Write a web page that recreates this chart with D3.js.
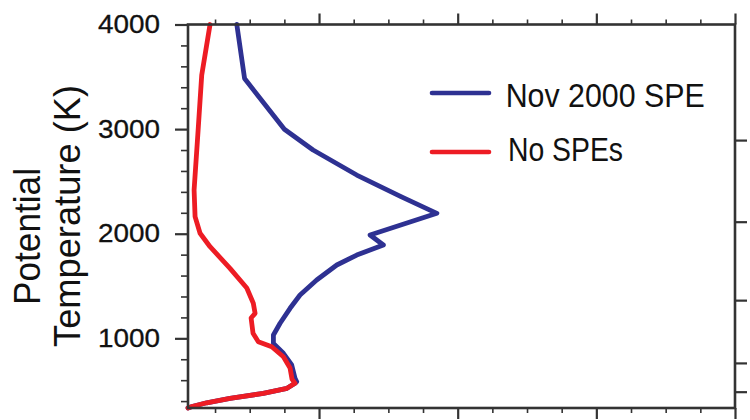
<!DOCTYPE html>
<html>
<head>
<meta charset="utf-8">
<script src="https://cdn.jsdelivr.net/npm/d3@7"></script>
<style>
  html, body { margin: 0; padding: 0; background: #fff; }
  svg { display: block; }
  text { font-family: "Liberation Sans", Arial, Helvetica, sans-serif; fill: #111; }
</style>
</head>
<body>
<svg id="chart" width="750" height="420"></svg>
<script>
// Profiles: x value vs potential temperature (K)
const spe2000Theta = [4000, 3484, 2998, 2800, 2561, 2354, 2195, 1988, 1892, 1844, 1796, 1701, 1558, 1414, 1287, 1144, 1032, 952, 857, 745, 618, 585, 570, 522, 474, 426, 384, 348, 334];
const spe2000Value = [0.407, 0.463, 0.750, 0.957, 1.272, 1.591, 1.850, 1.368, 1.464, 1.368, 1.272, 1.128, 0.983, 0.863, 0.791, 0.719, 0.671, 0.671, 0.743, 0.803, 0.827, 0.839, 0.827, 0.769, 0.598, 0.358, 0.190, 0.084, 0.055];

const noSpeTheta = [4000, 3517, 2991, 2418, 2163, 2004, 1876, 1669, 1481, 1335, 1239, 1194, 1048, 968, 920, 824, 716, 611, 570, 522, 474, 426, 384, 348, 334];
const noSpeValue = [0.214, 0.154, 0.128, 0.099, 0.106, 0.142, 0.214, 0.358, 0.479, 0.526, 0.539, 0.510, 0.524, 0.562, 0.659, 0.743, 0.791, 0.805, 0.827, 0.769, 0.598, 0.358, 0.190, 0.084, 0.055];

const seriesNames = ["Nov 2000 SPE", "No SPEs"];
const seriesColors = ["#2e3192", "#ed1c24"];

const yMajorTicks = [1000, 2000, 3000, 4000];
const yMinorTicks = d3.range(400, 4000, 200).filter(v => v % 1000 !== 0);
const xMajorTicks = [1, 2, 3, 4];
const xMinorTicks = d3.range(0.25, 4, 0.25).filter(v => v % 1 !== 0);
const rightTicks = [2895, 2115, 1365, 765, 490];

const xDomain = [0.055, 4];
const yDomain = [334, 4000];

const svg = d3.select("#chart");
const m = { left: 188, right: 735, top: 24.5, bottom: 408 };

const x = d3.scaleLinear().domain(xDomain).range([m.left, m.right]);
const y = d3.scaleLinear().domain(yDomain).range([m.bottom, m.top]);

const axisColor = "#333";

function styleAxis(g, width) {
  g.select(".domain").remove();
  g.selectAll(".tick line").attr("stroke", axisColor).attr("stroke-width", width);
}

// left axis
svg.append("g").attr("transform", `translate(${m.left},0)`)
  .call(d3.axisLeft(y).tickValues(yMinorTicks).tickSize(7).tickFormat(""))
  .call(g => styleAxis(g, 1.6));
const yAx = svg.append("g").attr("transform", `translate(${m.left},0)`)
  .call(d3.axisLeft(y).tickValues(yMajorTicks).tickSize(13).tickPadding(15).tickFormat(d3.format("d")))
  .call(g => styleAxis(g, 2.2));
yAx.selectAll(".tick text")
  .attr("font-size", 25.5)
  .attr("font-family", "'Liberation Sans', Arial, sans-serif")
  .attr("fill", "#111")
  .attr("stroke", "#111")
  .attr("stroke-width", 0.3)
  .attr("textLength", 62)
  .attr("lengthAdjust", "spacingAndGlyphs");

// right axis
svg.append("g").attr("transform", `translate(${m.right},0)`)
  .call(d3.axisRight(y).tickValues(rightTicks).tickSize(12).tickFormat(""))
  .call(g => styleAxis(g, 2.2));

// top and bottom axes
[[d3.axisTop, m.top], [d3.axisBottom, m.bottom]].forEach(([fn, pos]) => {
  svg.append("g").attr("transform", `translate(0,${pos})`)
    .call(fn(x).tickValues(xMinorTicks).tickSize(5).tickFormat(""))
    .call(g => styleAxis(g, 1.6));
  svg.append("g").attr("transform", `translate(0,${pos})`)
    .call(fn(x).tickValues(xMajorTicks).tickSize(11).tickFormat(""))
    .call(g => styleAxis(g, 2.2));
});

// profiles
const line = d3.line().x(d => x(d[0])).y(d => y(d[1]));
const speData = d3.zip(spe2000Value, spe2000Theta);
const noSpeData = d3.zip(noSpeValue, noSpeTheta);

const plot = svg.append("g");
[speData, noSpeData].forEach((data, i) => {
  plot.append("path")
    .datum(data)
    .attr("d", line)
    .attr("fill", "none")
    .attr("stroke", seriesColors[i])
    .attr("stroke-width", 4.8)
    .attr("stroke-linejoin", "round")
    .attr("stroke-linecap", "round");
});

// frame
svg.append("rect")
  .attr("x", m.left).attr("y", m.top)
  .attr("width", m.right - m.left).attr("height", m.bottom - m.top)
  .attr("fill", "none").attr("stroke", axisColor).attr("stroke-width", 2.6);

// legend
const legendRows = [
  { y: 93, textY: 94.5, textX: 505.7, len: 199 },
  { y: 152, textY: 148.7, textX: 508, len: 115 }
];
legendRows.forEach((r, i) => {
  svg.append("line")
    .attr("x1", 432).attr("x2", 489)
    .attr("y1", r.y).attr("y2", r.y)
    .attr("stroke", seriesColors[i]).attr("stroke-width", 4.6)
    .attr("stroke-linecap", "round");
  svg.append("text")
    .attr("x", r.textX).attr("y", r.textY)
    .attr("dy", "0.36em")
    .attr("font-size", 34)
    .attr("textLength", r.len)
    .attr("lengthAdjust", "spacingAndGlyphs")
    .text(seriesNames[i]);
});

// y axis title (two lines)
svg.append("text")
  .attr("transform", "translate(40,236.5) rotate(-90)")
  .attr("text-anchor", "middle")
  .attr("font-size", 37)
  .attr("textLength", 137)
  .attr("lengthAdjust", "spacingAndGlyphs")
  .text("Potential");
svg.append("text")
  .attr("transform", "translate(80,216) rotate(-90)")
  .attr("text-anchor", "middle")
  .attr("font-size", 37)
  .attr("textLength", 262)
  .attr("lengthAdjust", "spacingAndGlyphs")
  .text("Temperature (K)");
</script>
</body>
</html>
